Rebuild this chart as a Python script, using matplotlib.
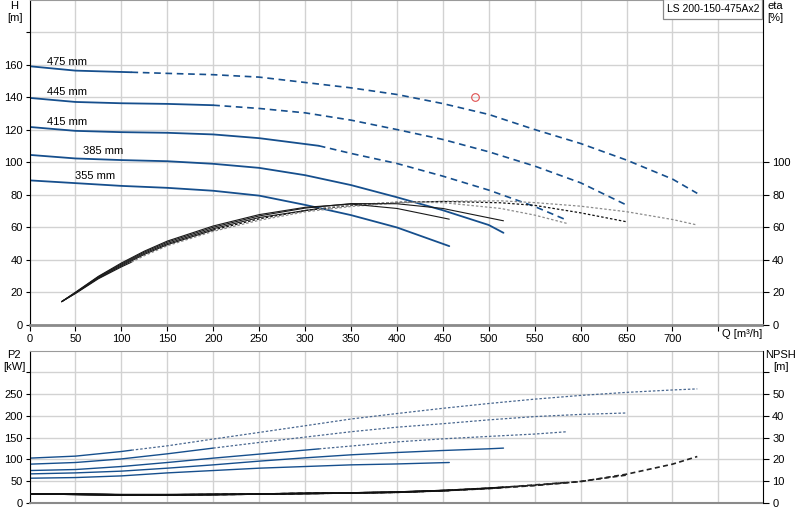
import matplotlib
matplotlib.use("Agg")
import matplotlib.pyplot as plt
from matplotlib.patches import Rectangle
import numpy as np

plt.rcParams['font.family'] = ['Liberation Sans', 'DejaVu Sans']
plt.rcParams['font.size'] = 8

# ---------------- data ----------------
diameters = ["475 mm", "445 mm", "415 mm", "385 mm", "355 mm"]
solid_until = [111, 200, 315, 520, 460]   # Q where the curve turns dashed

# Head curves H [m]
q_h475 = [0, 50, 111, 150, 200, 250, 300, 350, 400, 450, 500, 550, 600, 650, 700, 727]
h_475 = [159.2, 156.5, 155.5, 154.8, 154.0, 152.5, 149.2, 145.9, 141.8, 136.2, 129.5, 120.2, 111.6, 101.4, 89.7, 80.9]
q_h445 = [0, 50, 100, 150, 200, 250, 300, 350, 400, 450, 500, 550, 600, 650]
h_445 = [139.7, 137.2, 136.4, 136.0, 135.2, 133.2, 130.5, 126.0, 120.2, 114.1, 106.5, 97.7, 87.4, 73.7]
q_h415 = [0, 50, 100, 150, 200, 250, 315, 350, 400, 450, 500, 550, 585]
h_415 = [121.8, 119.4, 118.6, 118.2, 117.2, 114.9, 110.2, 105.5, 99.3, 91.5, 82.9, 72.8, 64.4]
q_h385 = [0, 50, 100, 150, 200, 250, 300, 350, 400, 450, 500, 516]
h_385 = [104.6, 102.4, 101.4, 100.7, 99.1, 96.6, 92.1, 86.0, 78.5, 70.5, 61.4, 56.6]
q_h355 = [0, 50, 100, 150, 200, 250, 300, 350, 400, 457]
h_355 = [88.9, 87.2, 85.5, 84.3, 82.5, 79.5, 73.8, 67.5, 59.9, 48.4]

# Efficiency curves eta [%]
q_e475 = [35, 50, 75, 100, 111, 125, 150, 200, 250, 300, 350, 400, 450, 513, 550, 600, 650, 700, 727]
e_475 = [14.2, 19.2, 28.3, 35.6, 38.5, 42.5, 48.6, 57.5, 64.3, 69.5, 72.8, 75.0, 76.0, 76.3, 75.2, 73.0, 69.6, 64.8, 61.4]
q_e445 = [35, 50, 75, 100, 125, 150, 200, 250, 300, 350, 400, 450, 513, 550, 600, 650]
e_445 = [14.2, 19.4, 28.7, 36.2, 43.3, 49.3, 58.3, 65.2, 70.3, 73.5, 75.4, 75.9, 75.1, 73.5, 68.9, 63.4]
q_e415 = [35, 50, 75, 100, 125, 150, 200, 250, 315, 350, 400, 450, 513, 550, 585]
e_415 = [14.2, 19.6, 29.1, 36.8, 44.0, 50.0, 59.1, 66.0, 71.6, 73.8, 75.5, 75.2, 71.6, 67.5, 62.4]
q_e385 = [35, 50, 75, 100, 125, 150, 200, 250, 300, 350, 400, 450, 516]
e_385 = [14.2, 19.8, 29.5, 37.4, 44.7, 50.8, 60.0, 67.0, 71.8, 74.6, 74.5, 71.6, 64.0]
q_e355 = [35, 50, 75, 100, 125, 150, 200, 250, 300, 350, 400, 457]
e_355 = [14.2, 20.0, 29.8, 38.0, 45.3, 51.5, 60.8, 67.8, 72.3, 74.3, 71.6, 65.0]

# Power P2 [kW]
q_p475 = [0, 50, 100, 111, 150, 200, 250, 300, 350, 400, 450, 500, 550, 600, 650, 700, 727]
p_475 = [102.8, 107.4, 118.0, 121.0, 131.0, 146.5, 161.7, 177.0, 192.5, 205.0, 217.0, 228.0, 238.0, 246.5, 253.5, 259.0, 261.5]
q_p445 = [0, 50, 100, 150, 200, 250, 300, 350, 400, 450, 500, 550, 600, 650]
p_445 = [89.0, 92.8, 101.0, 112.7, 125.8, 138.7, 151.0, 163.3, 173.7, 181.7, 190.5, 198.0, 203.0, 206.3]
q_p415 = [0, 50, 100, 150, 200, 250, 315, 350, 400, 450, 500, 550, 585]
p_415 = [74.4, 76.7, 83.6, 92.8, 102.8, 112.0, 124.0, 130.5, 140.0, 147.0, 152.6, 158.0, 163.3]
q_p385 = [0, 50, 100, 150, 200, 250, 300, 350, 400, 450, 500, 516]
p_385 = [66.7, 69.0, 73.0, 79.8, 87.4, 95.9, 103.5, 110.4, 115.7, 120.3, 124.2, 125.8]
q_p355 = [0, 50, 100, 150, 200, 250, 300, 350, 400, 457]
p_355 = [56.8, 58.3, 62.1, 69.0, 74.4, 79.8, 83.6, 87.4, 89.5, 92.8]

# NPSH [m]
q_n475 = [0, 50, 100, 111, 150, 200, 250, 300, 350, 400, 450, 500, 550, 600, 650, 700, 727]
n_475 = [4.2, 4.0, 3.7, 3.7, 3.7, 3.9, 4.1, 4.4, 4.6, 4.9, 5.7, 6.8, 8.1, 9.8, 13.2, 17.8, 21.3]
q_n445 = [0, 50, 100, 150, 200, 250, 300, 350, 400, 450, 500, 550, 600, 650]
n_445 = [4.2, 4.0, 3.7, 3.7, 3.9, 4.1, 4.4, 4.6, 4.9, 5.6, 6.6, 8.0, 9.9, 12.8]
q_n415 = [0, 50, 100, 150, 200, 250, 315, 350, 400, 450, 500, 550, 585]
n_415 = [4.2, 4.0, 3.7, 3.7, 3.9, 4.1, 4.4, 4.6, 4.9, 5.6, 6.7, 8.3, 9.4]
q_n385 = [0, 50, 100, 150, 200, 250, 300, 350, 400, 450, 500, 516]
n_385 = [4.2, 4.0, 3.8, 3.8, 3.9, 4.1, 4.4, 4.6, 5.0, 5.7, 6.8, 7.2]
q_n355 = [0, 50, 100, 150, 200, 250, 300, 350, 400, 457]
n_355 = [4.2, 4.0, 3.8, 3.8, 3.9, 4.1, 4.4, 4.6, 5.0, 5.8]

x_ticks = list(range(0, 751, 50))
x_labels = [str(v) for v in range(0, 701, 50)] + [""]
h_ticks = list(range(0, 181, 20))
h_labels = [str(v) for v in range(0, 161, 20)] + [""]
eta_ticks = list(range(0, 101, 20))
p_ticks = list(range(0, 301, 50))
p_labels = [str(v) for v in range(0, 251, 50)] + [""]
n_ticks = list(range(0, 61, 10))
n_labels = [str(v) for v in range(0, 51, 10)] + [""]

model = "LS 200-150-475Ax2"
duty_q, duty_h = [484.5], [140.1]

# ---------------- style helpers ----------------
BLUE = '#164f8d'
GRID = '#d2d2d2'


def split_plot(ax, q, v, qs, solid_kw, dash_kw):
    q = np.asarray(q, float)
    v = np.asarray(v, float)
    m1 = q <= qs
    m2 = q >= qs
    if m1.sum() > 1:
        ax.plot(q[m1], v[m1], solid_capstyle='round', **solid_kw)
    if m2.sum() > 1:
        ax.plot(q[m2], v[m2], **dash_kw)


fig = plt.figure(figsize=(8, 5.2), dpi=100)
L, W = 29.5 / 800, 733.0 / 800
ax1 = fig.add_axes([L, 1 - 324.7 / 520, W, 324.7 / 520])
ax3 = fig.add_axes([L, 1 - 503.0 / 520, W, (503.0 - 350.7) / 520])

for ax in (ax1, ax3):
    ax.set_xlim(0, 798)
    ax.set_xticks(x_ticks)
    ax.grid(True, color=GRID, linewidth=1.0)
    ax.set_axisbelow(True)
    ax.spines['left'].set_color('black')
    ax.spines['right'].set_color('black')
    ax.spines['top'].set_color('#9a9a9a')
    ax.spines['bottom'].set_color('#8a8a8a')
    ax.tick_params(axis='both', length=3, width=0.8, pad=2, labelsize=8)

ax1.spines['bottom'].set_linewidth(2.0)
ax3.spines['bottom'].set_linewidth(1.5)

# ---- top panel ----
ax1.set_ylim(0, 200)
ax1.set_yticks(h_ticks)
ax1.set_yticklabels(h_labels)
ax1.set_xticklabels(x_labels)
ax1.tick_params(axis='x', length=4, pad=3)
ax1r = ax1.twinx()
ax1r.set_ylim(0, 200)
ax1r.set_yticks(eta_ticks)
ax1r.tick_params(axis='y', length=4, width=0.8, pad=3, labelsize=8)
for s in ax1r.spines.values():
    s.set_visible(False)

head = [(q_h475, h_475), (q_h445, h_445), (q_h415, h_415), (q_h385, h_385), (q_h355, h_355)]
for (q, h), qs in zip(head, solid_until):
    split_plot(ax1, q, h, qs,
               dict(color=BLUE, lw=1.3),
               dict(color=BLUE, lw=1.2, linestyle=(0, (4, 2.8))))

eta = [(q_e475, e_475), (q_e445, e_445), (q_e415, e_415), (q_e385, e_385), (q_e355, e_355)]
eta_dash_col = ['#8c8c8c', '#111111', '#8c8c8c', '#111111', '#111111']
for (q, e), qs, dc in zip(eta, solid_until, eta_dash_col):
    split_plot(ax1r, q, e, qs,
               dict(color='#1a1a1a', lw=0.8),
               dict(color=dc, lw=0.9, linestyle=(0, (2, 1.6))))

ax1.plot(duty_q, duty_h, 'o', mfc='none', mec='#e05050', ms=5.5, mew=0.8)

label_pos = [(19, 161.7), (19, 143.2), (19, 124.7), (58.3, 106.9), (49.6, 91.5)]
for txt, (x, y) in zip(diameters, label_pos):
    ax1.text(x, y, txt, fontsize=8, va='center', ha='left')

ax1.text(754, -5.7, "Q [m³/h]", fontsize=8, ha='left', va='center', clip_on=False)

# model box (top-right corner)
fig.patches.append(Rectangle((663 / 800, 1 - 19 / 520), 99 / 800, 20 / 520,
                             transform=fig.transFigure, fc='white', ec='#8a8a8a',
                             lw=0.9, zorder=5))
fig.text(713.5 / 800, 1 - 8.5 / 520, model, ha='center', va='center', fontsize=7.5, zorder=6)

# ---- bottom panel ----
ax3.set_ylim(0, 349)
ax3.set_yticks(p_ticks)
ax3.set_yticklabels(p_labels)
ax3.tick_params(axis='x', length=0, labelbottom=False)
ax3r = ax3.twinx()
ax3r.set_ylim(0, 69.8)
ax3r.set_yticks(n_ticks)
ax3r.set_yticklabels(n_labels)
ax3r.tick_params(axis='y', length=4, width=0.8, pad=3, labelsize=8)
for s in ax3r.spines.values():
    s.set_visible(False)

power = [(q_p475, p_475), (q_p445, p_445), (q_p415, p_415), (q_p385, p_385), (q_p355, p_355)]
for (q, p), qs in zip(power, solid_until):
    split_plot(ax3, q, p, qs,
               dict(color=BLUE, lw=1.0),
               dict(color='#4a6890', lw=0.9, linestyle=(0, (2, 1.5))))

npsh = [(q_n475, n_475), (q_n445, n_445), (q_n415, n_415), (q_n385, n_385), (q_n355, n_355)]
for (q, n), qs in zip(npsh, solid_until):
    split_plot(ax3r, q, n, qs,
               dict(color='#111111', lw=1.2),
               dict(color='#222222', lw=1.2, linestyle=(0, (3, 2))))

# ---- axis titles ----
def ftext(x, y, s, ha='center'):
    fig.text(x / 800, 1 - y / 520, s, ha=ha, va='center', fontsize=8)

ftext(14, 6, "H")
ftext(15, 18, "[m]")
ftext(775, 6, "eta")
ftext(775, 18, "[%]")
ftext(14, 355, "P2")
ftext(14, 367, "[kW]")
ftext(781, 355, "NPSH")
ftext(781, 367, "[m]")

fig.savefig("out.png", dpi=100)
